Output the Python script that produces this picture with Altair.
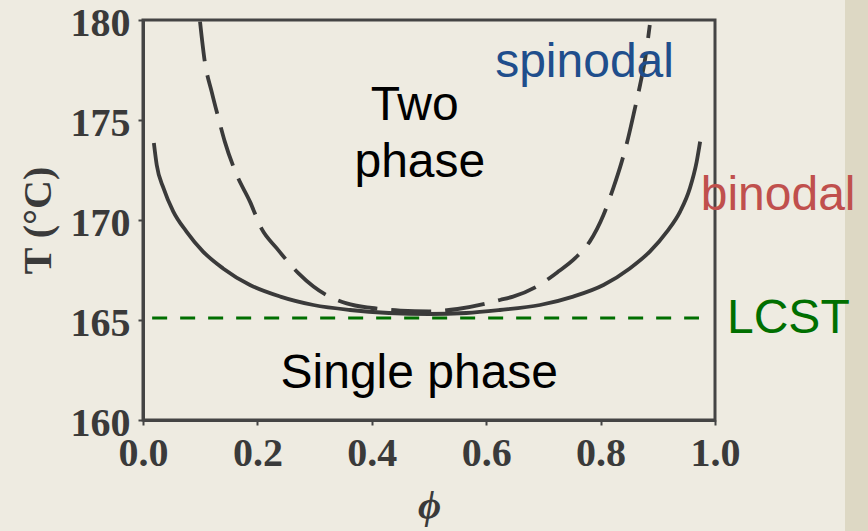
import altair as alt
import pandas as pd

# Binodal (coexistence) curve: polymer volume fraction and temperature (°C)
binodal_phi = [0.019, 0.024, 0.036, 0.053, 0.076, 0.105, 0.140, 0.187, 0.240, 0.298,
               0.362, 0.430, 0.500, 0.565, 0.624, 0.694, 0.752, 0.805, 0.851, 0.886,
               0.916, 0.939, 0.956, 0.968, 0.974]
binodal_T = [173.85, 172.75, 171.58, 170.42, 169.42, 168.42, 167.58, 166.75, 166.17, 165.75,
             165.50, 165.35, 165.30, 165.35, 165.50, 165.75, 166.17, 166.75, 167.58, 168.42,
             169.42, 170.42, 171.58, 172.92, 173.92]

# Spinodal curve
spinodal_phi = [0.0997, 0.108, 0.120, 0.132, 0.143, 0.164, 0.187, 0.207, 0.234, 0.272,
                0.298, 0.356, 0.400, 0.450, 0.500, 0.550, 0.601, 0.624, 0.647, 0.688,
                0.726, 0.755, 0.781, 0.805, 0.822, 0.837, 0.848, 0.860, 0.869, 0.878, 0.886]
spinodal_T = [179.92, 177.92, 176.42, 175.08, 173.92, 172.25, 170.92, 169.58, 168.58, 167.33,
              166.67, 165.83, 165.60, 165.47, 165.43, 165.55, 165.83, 166.00, 166.17, 166.67,
              167.42, 168.08, 168.92, 170.25, 171.58, 172.92, 174.08, 175.58, 176.75, 178.08, 179.75]

# Lower critical solution temperature
lcst_T = 165.1
lcst_phi = [0.016, 0.972]

# Axis ticks
x_ticks = [0.0, 0.2, 0.4, 0.6, 0.8, 1.0]
y_ticks = [160, 165, 170, 175, 180]

# Region and curve labels
label_text = ["spinodal", "Two", "phase", "binodal", "LCST", "Single phase"]
label_phi = [0.772, 0.475, 0.484, 0.975, 1.021, 0.483]
label_T = [177.15, 175.0, 172.15, 170.5, 164.35, 161.6]
label_color = ["#1f4e8c", "#000000", "#000000", "#c0504d", "#006f00", "#000000"]
label_align = ["center", "center", "center", "left", "left", "center"]

binodal = pd.DataFrame({"phi": binodal_phi, "T": binodal_T})
spinodal = pd.DataFrame({"phi": spinodal_phi, "T": spinodal_T})
lcst = pd.DataFrame({"phi": lcst_phi, "T": [lcst_T] * len(lcst_phi)})
labels = pd.DataFrame({"text": label_text, "phi": label_phi, "T": label_T,
                       "color": label_color, "align": label_align})

x_scale = alt.Scale(domain=[0, 1], nice=False, zero=False)
y_scale = alt.Scale(domain=[160, 180], nice=False, zero=False)

axis_common = dict(
    labelFont="Liberation Serif", labelFontWeight="bold", labelFontSize=40,
    labelColor="#3a3a3a", tickColor="#444444", tickSize=5, tickWidth=2,
    domainColor="#444444", domainWidth=3, grid=False, labelFlush=False,
    labelOverlap=False, titleFont="Liberation Serif", titleColor="#3a3a3a",
    titleFontSize=40, titleFontWeight="bold",
)

x_enc = alt.X("phi:Q", scale=x_scale,
              axis=alt.Axis(values=x_ticks, format=".1f", title="ϕ",
                            titleFontStyle="italic", labelPadding=8,
                            titlePadding=12, **axis_common))
y_enc = alt.Y("T:Q", scale=y_scale,
              axis=alt.Axis(values=y_ticks, format="d", title="T (°C)",
                            labelPadding=8, labelOffset=3, titlePadding=12,
                            **axis_common))

# Darker strip at the right edge of the slide
strip = alt.Chart(alt.Data(values=[{}])).mark_rect(color="#ddd8c4").encode(
    x=alt.value(702), x2=alt.value(740), y=alt.value(-20), y2=alt.value(520)
)

binodal_line = alt.Chart(binodal).mark_line(
    color="#3a3a3a", strokeWidth=3.8, interpolate="monotone"
).encode(x=x_enc, y=y_enc)

spinodal_line = alt.Chart(spinodal).mark_line(
    color="#3a3a3a", strokeWidth=3.8, interpolate="monotone", strokeDash=[40, 14]
).encode(x="phi:Q", y="T:Q")

lcst_line = alt.Chart(lcst).mark_line(
    color="#006f00", strokeWidth=3, strokeDash=[15, 13]
).encode(x="phi:Q", y="T:Q")

text_center = alt.Chart(labels).transform_filter(
    alt.datum.align == "center"
).mark_text(font="Liberation Sans", fontSize=48, align="center",
            baseline="alphabetic").encode(
    x="phi:Q", y="T:Q", text="text:N", color=alt.Color("color:N", scale=None)
)

text_left = alt.Chart(labels).transform_filter(
    alt.datum.align == "left"
).mark_text(font="Liberation Sans", fontSize=48, align="left",
            baseline="alphabetic").encode(
    x="phi:Q", y="T:Q", text="text:N", color=alt.Color("color:N", scale=None)
)

chart = alt.layer(
    strip, lcst_line, binodal_line, spinodal_line, text_center, text_left
).properties(
    width=572, height=400,
    autosize=alt.AutoSizeParams(type="none"),
    padding={"left": 143, "top": 20, "right": 153, "bottom": 111},
    background="#eeebe1",
).configure_view(
    stroke="#444444", strokeWidth=3
)

chart.save("out.html", embed_options={"renderer": "svg", "actions": False})
